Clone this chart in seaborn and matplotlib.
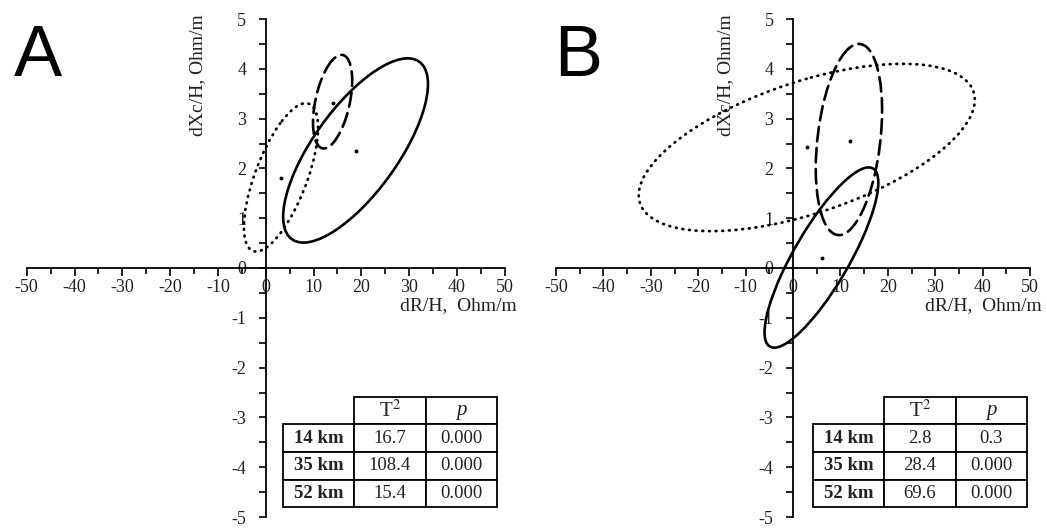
import numpy as np
import matplotlib
matplotlib.use('Agg')
import matplotlib.pyplot as plt
from matplotlib.patches import Ellipse
from matplotlib.ticker import MultipleLocator
import seaborn as sns

# Доверительные эллипсы: центр, полуширина по x и y, корреляция
styles = ['solid', 'dashed', 'dotted']

a_cx = [18.8, 14.0, 3.2]
a_cy = [2.36, 3.34, 1.82]
a_hx = [15.15, 4.1, 7.75]
a_hy = [1.85, 0.94, 1.49]
a_r = [0.72, 0.45, 0.67]

b_cx = [6.0, 11.8, 2.9]
b_cy = [0.21, 2.58, 2.42]
b_hx = [12.0, 7.0, 35.45]
b_hy = [1.81, 1.92, 1.68]
b_r = [0.83, 0.30, 0.57]

# Средние значения (точки)
a_px = [18.8, 14.0, 3.3]
a_py = [2.35, 3.32, 1.81]
b_px = [6.1, 12.0, 3.0]
b_py = [0.20, 2.56, 2.42]

# Таблицы
depths = ['14 km', '35 km', '52 km']
a_t2 = ['16.7', '108.4', '15.4']
a_p = ['0.000', '0.000', '0.000']
b_t2 = ['2.8', '28.4', '69.6']
b_p = ['0.3', '0.000', '0.000']

sns.set_theme(style='white')
plt.rcParams['font.family'] = ['Liberation Serif', 'DejaVu Serif']
plt.rcParams['axes.unicode_minus'] = False
plt.rcParams['mathtext.fontset'] = 'stix'

dash_map = {'solid': '-', 'dashed': (0, (5.5, 2.5)), 'dotted': (0, (0.3, 2.1))}

fig = plt.figure(figsize=(10.47, 5.29), dpi=100)
ax_a = fig.add_axes([26.7 / 1047, 12 / 529, 478 / 1047, 498 / 529])
ax_b = fig.add_axes([556 / 1047, 12 / 529, 474 / 1047, 498 / 529])


def draw_panel(ax, cx, cy, hx, hy, rr, px, py, t2, pv, tbl_x, tbl_w):
    for i, st in enumerate(styles):
        cov = np.array([[hx[i] ** 2, rr[i] * hx[i] * hy[i]],
                        [rr[i] * hx[i] * hy[i], hy[i] ** 2]])
        vals, vecs = np.linalg.eigh(cov)
        ang = np.degrees(np.arctan2(vecs[1, 1], vecs[0, 1]))
        e = Ellipse((cx[i], cy[i]), 2 * np.sqrt(vals[1]), 2 * np.sqrt(vals[0]),
                    angle=ang, fill=False, edgecolor='black',
                    linewidth=2.0 if st == 'dotted' else 1.9,
                    linestyle=dash_map[st], capstyle='round')
        ax.add_patch(e)
    sns.scatterplot(x=px, y=py, ax=ax, color='black', s=8, linewidth=0)

    ax.set_xlim(-50, 50)
    ax.set_ylim(-5, 5)
    ax.spines['left'].set_position(('data', 0))
    ax.spines['bottom'].set_position(('data', 0))
    ax.spines['top'].set_visible(False)
    ax.spines['right'].set_visible(False)
    for s in ['left', 'bottom']:
        ax.spines[s].set_linewidth(1.3)
        ax.spines[s].set_color('black')
    ax.set_facecolor('none')
    ax.xaxis.set_major_locator(MultipleLocator(10))
    ax.xaxis.set_minor_locator(MultipleLocator(5))
    ax.yaxis.set_major_locator(MultipleLocator(1))
    ax.yaxis.set_minor_locator(MultipleLocator(0.5))
    ax.tick_params(axis='both', which='both', direction='out', color='black',
                   width=1.2, labelsize=13, labelcolor='#222222')
    ax.tick_params(axis='x', which='major', length=6, pad=2, bottom=True)
    ax.tick_params(axis='x', which='minor', length=4, bottom=True)
    ax.tick_params(axis='y', which='major', length=5, pad=9, left=True)
    ax.tick_params(axis='y', which='minor', length=5, left=True)
    ax.grid(False)

    ax.set_xlabel('dR/H,  Ohm/m', fontsize=14, color='#222222')
    ax.xaxis.label.set_ha('right')
    ax.xaxis.set_label_coords(1.025, 0.442)
    ax.set_ylabel('dXc/H, Ohm/m', fontsize=14, color='#222222')
    ax.yaxis.set_label_coords(0.375, 0.888)

    cells = [['', 'T$^{2}$', 'p']] + [[d, t, p] for d, t, p in zip(depths, t2, pv)]
    tb = ax.table(cellText=cells, cellLoc='center',
                  bbox=[tbl_x, 0.02, tbl_w, 0.221])
    tb.auto_set_font_size(False)
    for (r, c), cell in tb.get_celld().items():
        cell.set_linewidth(1.3)
        cell.set_edgecolor('black')
        cell.set_facecolor('white')
        txt = cell.get_text()
        txt.set_fontsize(13.5)
        txt.set_color('#222222')
        if r == 0 and c == 0:
            cell.visible_edges = ''
        if c == 0 and r > 0:
            txt.set_fontweight('bold')
        if r == 0:
            txt.set_fontsize(15)
        if r == 0 and c == 2:
            txt.set_fontstyle('italic')


draw_panel(ax_a, a_cx, a_cy, a_hx, a_hy, a_r, a_px, a_py, a_t2, a_p, 0.536, 0.448)
draw_panel(ax_b, b_cx, b_cy, b_hx, b_hy, b_r, b_px, b_py, b_t2, b_p, 0.542, 0.452)

fig.text(14 / 1047, 1 - 76 / 529, 'A', fontsize=52, family='Liberation Sans',
         va='baseline', ha='left', color='black')
fig.text(554 / 1047, 1 - 76 / 529, 'B', fontsize=52, family='Liberation Sans',
         va='baseline', ha='left', color='black')

fig.savefig('out.png', dpi=100, facecolor='white')
